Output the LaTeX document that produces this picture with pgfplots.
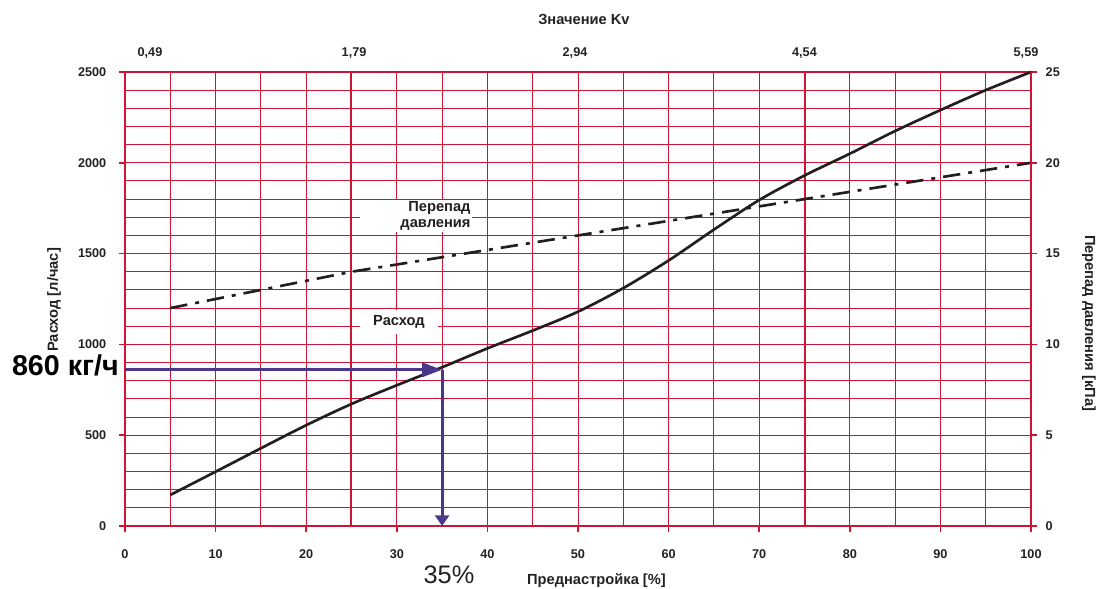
\documentclass[border=0pt]{standalone}
\usepackage{fontspec}
\setmainfont{Liberation Sans}
\usepackage{pgfplots}
\pgfplotsset{compat=1.18}
\usetikzlibrary{arrows.meta}
\definecolor{gridred}{RGB}{204,20,55}
\definecolor{arrowblue}{RGB}{74,55,140}
\definecolor{ink}{RGB}{35,31,32}
\definecolor{txt}{RGB}{34,34,34}

\pgfplotstableread{
x y
5 171
10 299
15 428
20 555
25 672
30 775
35 874
40 978
45 1076
50 1180
55 1310
60 1462
65 1632
70 1795
75 1930
80 2050
85 2175
90 2290
95 2400
100 2500
}\flowtable

\pgfplotstableread{
x y
5 1200
25 1400
50 1600
75 1800
100 2000
}\pressuretable

\begin{document}
\begin{tikzpicture}
\begin{axis}[
 at={(0,0)}, anchor=south west,
 scale only axis, width=679.5pt, height=340.5pt,
 xmin=0,xmax=100,ymin=0,ymax=2500,
 xtick={0,10,...,100}, minor x tick num=1,
 ytick={0,500,...,2500}, minor y tick num=4,
 grid=both,
 major grid style={gridred, line width=0.75pt},
 minor grid style={gridred, line width=0.75pt},
 axis line style={gridred, line width=1.6pt},
 tick align=outside,
 major tick length=4.5pt, minor tick length=0pt,
 tick style={gridred, line width=1.2pt},
 xtick pos=bottom, ytick pos=left,
 ticklabel style={font=\bfseries\fontsize{9.5}{11}\selectfont, text=txt},
 xticklabel style={yshift=-10pt},
 yticklabel style={xshift=-6pt},
 /pgf/number format/assume math mode=true,
 /pgf/number format/1000 sep={},
 extra x ticks={25,75}, extra x tick labels={},
 extra x tick style={grid=major, major grid style={gridred,line width=1.5pt}, major tick length=0pt},
 clip=false,
]
\addplot[ink, line width=2pt, smooth] table[x=x,y=y] {\flowtable};
\addplot[ink, line width=2pt, dash pattern=on 13pt off 6pt on 3pt off 6pt] table[x=x,y=y] {\pressuretable};
\addplot[arrowblue, line width=2.4pt, -{Triangle[length=15pt,width=10.5pt]}] coordinates {(0,860) (35,860)};
\addplot[arrowblue, line width=2.2pt, -{Triangle[length=8pt,width=10.5pt]}] coordinates {(35,860) (35,0)};

\node[fill=white, inner xsep=1pt, inner ysep=0pt, minimum width=84pt, minimum height=24pt, text width=82pt, align=right, font=\bfseries\fontsize{11}{11.5}\selectfont, text=ink] at (axis cs:32.1,1707) {Перепад\\давления};
\node[fill=white, minimum width=58.5pt, minimum height=18pt, inner sep=0pt, font=\bfseries\fontsize{11}{12}\selectfont, text=ink] at (axis cs:30.24,1123) {Расход};

\node[anchor=base, font=\bfseries\fontsize{11}{12}\selectfont, text=txt] at (axis description cs:0.5066,1.1057) {Значение Kv};
\node[anchor=base, font=\bfseries\fontsize{9.5}{11}\selectfont, text=txt] at (axis description cs:0.0276,1.034) {0,49};
\node[anchor=base, font=\bfseries\fontsize{9.5}{11}\selectfont, text=txt] at (axis description cs:0.2528,1.034) {1,79};
\node[anchor=base, font=\bfseries\fontsize{9.5}{11}\selectfont, text=txt] at (axis description cs:0.4967,1.034) {2,94};
\node[anchor=base, font=\bfseries\fontsize{9.5}{11}\selectfont, text=txt] at (axis description cs:0.75,1.034) {4,54};
\node[anchor=base, font=\bfseries\fontsize{9.5}{11}\selectfont, text=txt] at (axis description cs:0.9945,1.034) {5,59};

\node[anchor=base, rotate=90, font=\bfseries\fontsize{11}{12}\selectfont, text=txt] at (axis description cs:-0.074,0.498) {Расход [л/час]};
\node[anchor=base, rotate=-90, font=\bfseries\fontsize{11}{12}\selectfont, text=txt] at (axis description cs:1.0596,0.447) {Перепад давления [кПа]};
\node[anchor=base, font=\bfseries\fontsize{11}{12}\selectfont, text=txt] at (axis description cs:0.5204,-0.1278) {Преднастройка [\%]};

\node[anchor=base east, inner sep=0pt, font=\bfseries\fontsize{21.5}{24}\selectfont, text=black] at (axis description cs:-0.0066,0.3304) {860 кг/ч};
\node[anchor=base, inner sep=0pt, font=\fontsize{19}{21}\selectfont, text=ink] at (axis description cs:0.3576,-0.1275) {35\%};
\end{axis}

\begin{axis}[
 at={(0,0)}, anchor=south west,
 scale only axis, width=679.5pt, height=340.5pt,
 xmin=0,xmax=100,ymin=0,ymax=25,
 axis x line=none, axis y line*=right,
 ytick={0,5,...,25},
 axis line style={gridred, line width=1.6pt},
 tick align=outside, major tick length=4.5pt,
 tick style={gridred, line width=1.2pt},
 ticklabel style={font=\bfseries\fontsize{9.5}{11}\selectfont, text=txt},
 yticklabel style={xshift=3pt},
 /pgf/number format/assume math mode=true,
]
\end{axis}
\pgfresetboundingbox
\path[use as bounding box] (-93.75pt,-47.25pt) rectangle (732pt,394.5pt);
\end{tikzpicture}
\end{document}
